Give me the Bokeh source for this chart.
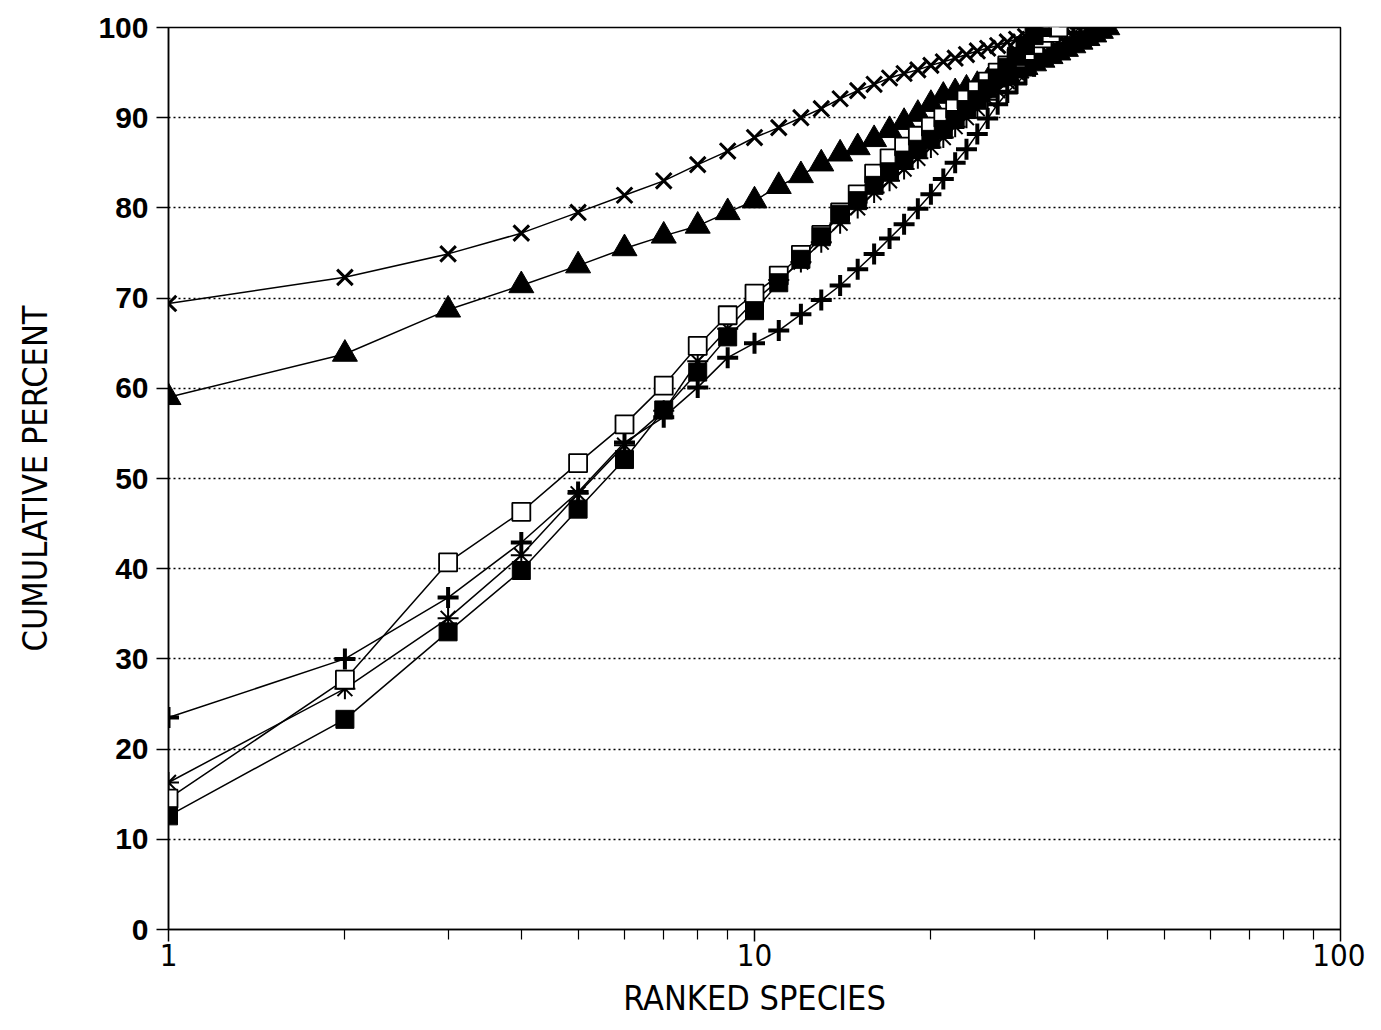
from bokeh.plotting import figure
from bokeh.models import Range1d, FixedTicker, NumeralTickFormatter, ColumnDataSource
from bokeh.embed import file_html
from bokeh.resources import INLINE

# Cumulative percent per ranked species (rank = position in list, starting at 1)
series_x_cross = [69.4, 72.3, 74.9, 77.2, 79.5, 81.4, 83.0, 84.8, 86.3, 87.8,
                  88.9, 90.0, 91.0, 92.1, 93.0, 93.7, 94.4, 94.9, 95.3, 95.8,
                  96.2, 96.6, 97.0, 97.4, 97.7, 98.0, 98.4, 98.7, 99.0, 99.3,
                  99.6, 100.0]
series_triangle = [59.0, 63.8, 68.7, 71.4, 73.6, 75.5, 76.9, 78.0, 79.5, 80.8,
                   82.4, 83.6, 84.9, 86.0, 86.7, 87.6, 88.6, 89.5, 90.4, 91.5,
                   92.4, 92.8, 93.2, 93.6, 94.0, 94.4, 94.8, 95.2, 95.6, 96.0,
                   96.4, 96.8, 97.2, 97.6, 98.0, 98.4, 98.8, 99.2, 99.6, 100.0]
series_open_square = [14.5, 27.7, 40.7, 46.3, 51.7, 56.0, 60.3, 64.7, 68.1, 70.5,
                      72.5, 74.8, 77.0, 79.5, 81.5, 83.8, 85.5, 86.8, 88.0, 89.0,
                      90.0, 91.0, 92.0, 93.0, 94.0, 95.0, 95.8, 96.6, 97.4, 98.1,
                      98.8, 99.4, 100.0]
series_filled_square = [12.6, 23.3, 33.0, 39.8, 46.6, 52.1, 57.6, 61.8, 65.7, 68.6,
                        71.7, 74.3, 76.8, 79.3, 80.8, 82.5, 84.0, 85.3, 86.5, 87.6,
                        88.7, 89.8, 90.9, 92.0, 93.2, 94.4, 95.6, 96.8, 98.0, 99.1,
                        100.0]
series_asterisk = [16.3, 26.7, 34.5, 41.5, 48.3, 53.7, 57.5, 63.0, 66.6, 69.7,
                   72.0, 74.0, 76.2, 78.3, 80.0, 81.7, 83.0, 84.3, 85.5, 86.7,
                   87.8, 89.0, 90.0, 91.0, 92.0, 93.0, 94.0, 95.0, 96.0, 97.0,
                   97.8, 98.6, 99.3, 100.0]
series_plus = [23.5, 30.0, 36.8, 42.9, 48.5, 54.0, 56.8, 60.1, 63.4, 65.0,
               66.4, 68.2, 69.8, 71.4, 73.2, 74.9, 76.6, 78.2, 79.9, 81.5,
               83.2, 85.0, 86.5, 88.2, 89.9, 91.5, 92.8, 93.8, 94.8, 95.7,
               96.5, 97.3, 98.0, 98.7, 99.4, 100.0]

y_ticks = [0, 10, 20, 30, 40, 50, 60, 70, 80, 90, 100]
x_major_ticks = [1, 10, 100]
x_minor_ticks = [2, 3, 4, 5, 6, 7, 8, 9, 20, 30, 40, 50, 60, 70, 80, 90]

p = figure(frame_width=1172, frame_height=902, x_axis_type="log",
           x_range=Range1d(1, 100), y_range=Range1d(0, 100),
           output_backend="svg", toolbar_location=None,
           min_border_left=168, min_border_right=25, min_border_top=27,
           min_border_bottom=84)
p.background_fill_color = "white"
p.border_fill_color = "white"
p.outline_line_color = "black"
p.outline_line_width = 1.5

p.xgrid.grid_line_color = None
p.ygrid.grid_line_color = "black"
p.ygrid.grid_line_dash = "2 3"
p.ygrid.grid_line_width = 1.3

p.xaxis.ticker = FixedTicker(ticks=x_major_ticks, minor_ticks=x_minor_ticks)
p.xaxis.formatter = NumeralTickFormatter(format="0")
p.yaxis.ticker = FixedTicker(ticks=y_ticks)

for ax in (p.xaxis, p.yaxis):
    ax.axis_line_color = "black"
    ax.axis_line_width = 1.5
    ax.major_tick_line_color = "black"
    ax.major_tick_line_width = 1.5
    ax.major_tick_in = 0
    ax.major_tick_out = 12
    ax.major_label_text_color = "black"
    ax.axis_label_text_font = "DejaVu Sans Condensed"
    ax.axis_label_text_font_size = "34px"
    ax.axis_label_text_font_style = "normal"
    ax.axis_label_text_color = "black"
p.yaxis.major_label_text_font = "Liberation Sans"
p.yaxis.major_label_text_font_size = "30px"
p.yaxis.major_label_text_font_style = "bold"
p.xaxis.major_label_text_font = "DejaVu Sans Condensed"
p.xaxis.major_label_text_font_size = "31px"
p.xaxis.minor_tick_line_color = "black"
p.xaxis.minor_tick_line_width = 1.2
p.xaxis.minor_tick_in = 0
p.xaxis.minor_tick_out = 10
p.yaxis.minor_tick_line_color = None
p.xaxis.major_label_standoff = 2
p.yaxis.major_label_standoff = 8
p.xaxis.axis_label = "RANKED SPECIES"
p.yaxis.axis_label = "CUMULATIVE PERCENT"
p.xaxis.axis_label_standoff = 9
p.yaxis.axis_label_standoff = 40

def src(vals):
    return ColumnDataSource(dict(x=list(range(1, len(vals) + 1)), y=vals))

styles = [
    (series_x_cross, dict(marker="x", size=22, line_color="black", line_width=3.0)),
    (series_triangle, dict(marker="triangle", size=25, line_color="black", fill_color="black", line_width=1)),
    (series_plus, dict(marker="cross", size=21, line_color="black", line_width=4.0)),
    (series_asterisk, dict(marker="asterisk", size=21, line_color="black", line_width=2.0)),
    (series_open_square, dict(marker="square", size=18, line_color="black", fill_color="white", line_width=1.8)),
    (series_filled_square, dict(marker="square", size=18, line_color="black", fill_color="black", line_width=1)),
]

for vals, st in styles:
    p.line("x", "y", source=src(vals), line_color="black", line_width=1.5)
for vals, st in styles:
    p.scatter("x", "y", source=src(vals), **st)

open("out.html", "w").write(file_html(p, INLINE))
